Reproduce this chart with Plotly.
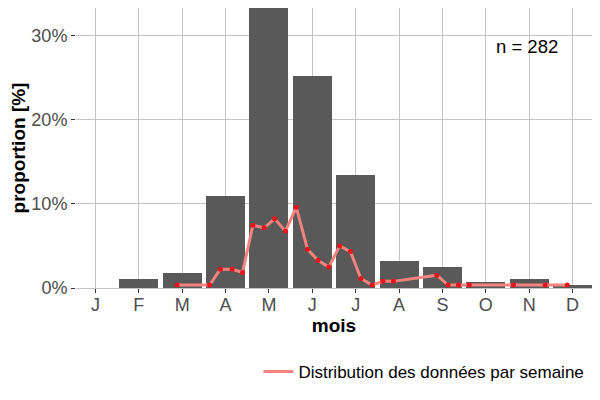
import plotly.graph_objects as go

# monthly proportion (%) of the 282 observations
month_num = [1, 2, 3, 4, 5, 6, 7, 8, 9, 10, 11, 12]
month_lab = ["J", "F", "M", "A", "M", "J", "J", "A", "S", "O", "N", "D"]
month_pct = [0, 1.06, 1.77, 11.0, 33.33, 25.18, 13.48, 3.19, 2.48, 0.71, 1.06, 0.35]

# weekly distribution, x expressed in month units
week_x = [2.88, 3.63, 3.88, 4.15, 4.39, 4.63, 4.89, 5.13, 5.38, 5.63, 5.89, 6.13, 6.38,
          6.63, 6.88, 7.12, 7.38, 7.63, 7.87, 8.87, 9.13, 9.37, 9.62, 10.64, 11.37, 11.88]
week_pct = [0.35, 0.35, 2.24, 2.24, 1.85, 7.47, 7.17, 8.23, 6.77, 9.6, 4.6, 3.3, 2.5,
            5.0, 4.33, 1.14, 0.35, 0.79, 0.79, 1.53, 0.35, 0.35, 0.35, 0.35, 0.35, 0.35]

y_ticks = [0, 10, 20, 30]
y_labels = ["0%", "10%", "20%", "30%"]
n_total = 282

fig = go.Figure()
fig.add_trace(go.Bar(x=month_num, y=month_pct, width=0.9, marker_color="#595959",
                     marker_line_width=0, showlegend=False))
fig.add_trace(go.Scatter(x=week_x, y=week_pct, mode="lines",
                         line=dict(color="#F4837D", width=3),
                         name="Distribution des données par semaine"))
fig.add_trace(go.Scatter(x=week_x, y=week_pct, mode="markers",
                         marker=dict(color="#E8141B", size=5), showlegend=False))

fig.add_annotation(x=10.95, y=28.8, text="n = " + str(n_total), showarrow=False,
                   font=dict(size=18.5, color="black"))

grid = "#c4c4c4"
fig.update_xaxes(range=[0.55, 12.45], tickvals=month_num, ticktext=month_lab,
                 showgrid=True, gridcolor=grid, gridwidth=1, zeroline=False, automargin=False,
                 ticks="outside", ticklen=4, tickcolor="#333333", ticklabelstandoff=-4,
                 tickfont=dict(size=18, color="#4d4d4d"),
                 title=dict(text="<b>mois</b>", font=dict(size=19, color="black"), standoff=0))
fig.update_yaxes(range=[0, 33.33], tickvals=y_ticks, ticktext=y_labels,
                 showgrid=True, gridcolor=grid, gridwidth=1, automargin=False,
                 zeroline=True, zerolinecolor=grid, zerolinewidth=1,
                 ticks="outside", ticklen=4, tickcolor="#333333",
                 tickfont=dict(size=18, color="#4d4d4d"),
                 title=dict(text="<b>proportion [%]</b>", font=dict(size=19, color="black"), standoff=4))

# page body has an 8px margin, so the figure is 8px smaller than the window
fig.update_layout(width=592, height=392, plot_bgcolor="white", paper_bgcolor="white",
                  font=dict(family="Liberation Sans, Arial, sans-serif"),
                  margin=dict(l=68, r=8, t=0, b=112), bargap=0,
                  legend=dict(orientation="h", x=0.995, xanchor="right", y=-0.3, yanchor="middle",
                              itemwidth=30, font=dict(size=17, color="black")))

fig.write_html("out.html")
